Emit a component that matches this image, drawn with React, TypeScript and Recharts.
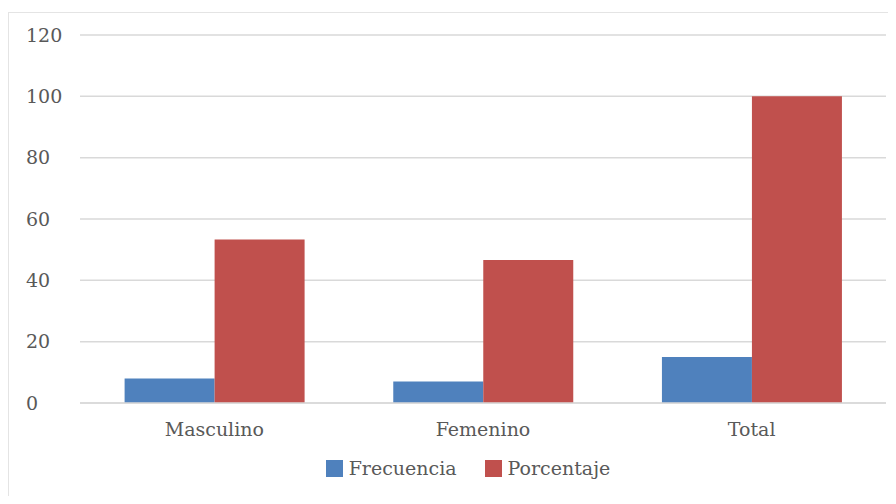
import { BarChart, Bar, XAxis, YAxis, CartesianGrid, Legend } from 'recharts';

const categories = ['Masculino', 'Femenino', 'Total'];
const frecuencia = [8, 7, 15];
const porcentaje = [53.33, 46.67, 100];
const yTicks = [0, 20, 40, 60, 80, 100, 120];

const series = [
  { key: 'frecuencia', name: 'Frecuencia', color: '#4f81bd' },
  { key: 'porcentaje', name: 'Porcentaje', color: '#c0504d' },
];

const data = categories.map((c, i) => ({
  name: c,
  frecuencia: frecuencia[i],
  porcentaje: porcentaje[i],
}));

const FONT = '"DejaVu Serif", serif';
const TEXT = '#595959';

function YTick({ y, payload }: any) {
  return (
    <text x={26} y={y} dy="0.355em" textAnchor="start" fill={TEXT} fontSize={19} fontFamily={FONT}>
      {payload.value}
    </text>
  );
}

function LegendBox() {
  return (
    <div style={{ display: 'flex', justifyContent: 'center', gap: 28, marginTop: 5, paddingLeft: 50 }}>
      {series.map((s) => (
        <div key={s.key} style={{ display: 'flex', alignItems: 'center' }}>
          <span style={{ width: 17, height: 17, background: s.color, display: 'inline-block', marginRight: 6 }} />
          <span style={{ color: TEXT, fontSize: 19, fontFamily: FONT, lineHeight: '19px' }}>{s.name}</span>
        </div>
      ))}
    </div>
  );
}

export default function App() {
  return (
    <div style={{ position: 'relative', margin: -8, width: 896, height: 504, overflow: 'hidden', background: '#fff' }}>
      <div
        style={{
          position: 'absolute',
          left: 8,
          top: 12,
          width: 900,
          height: 500,
          border: '1px solid #e4e4e4',
        }}
      />
      <BarChart
        width={896}
        height={504}
        data={data}
        margin={{ top: 35, right: 10, left: 0, bottom: 0 }}
        barGap={0}
        barCategoryGap="16.6%"
      >
        <CartesianGrid vertical={false} stroke="#d9d9d9" strokeWidth={1.5} />
        <XAxis
          dataKey="name"
          height={51}
          tickLine={false}
          axisLine={{ stroke: '#d9d9d9', strokeWidth: 1.5 }}
          tickMargin={14}
          tick={{ fill: TEXT, fontSize: 19, fontFamily: FONT }}
        />
        <YAxis
          width={80}
          domain={[0, 120]}
          ticks={yTicks}
          axisLine={false}
          tickLine={false}
          tick={<YTick />}
        />
        <Legend verticalAlign="bottom" height={50} content={<LegendBox />} />
        {series.map((s) => (
          <Bar key={s.key} dataKey={s.key} name={s.name} fill={s.color} isAnimationActive={false} />
        ))}
      </BarChart>
    </div>
  );
}
